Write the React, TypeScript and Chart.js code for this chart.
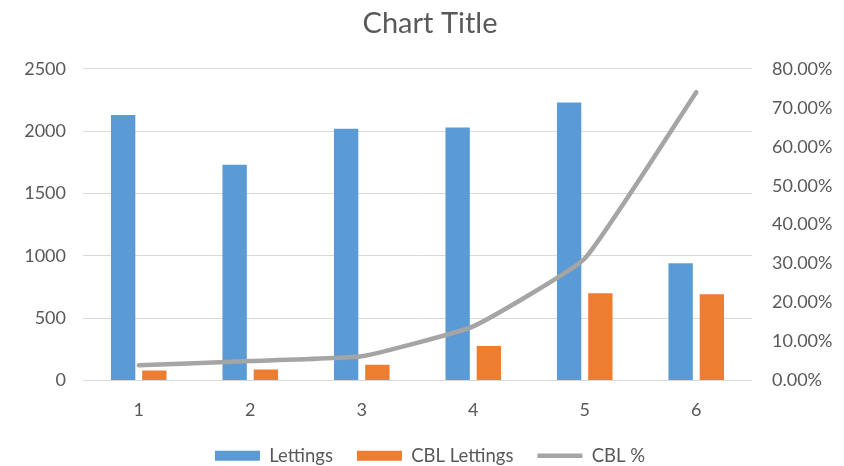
import React, { useEffect, useRef } from "react";
import { Chart, registerables } from "chart.js";

Chart.register(...registerables);

const categories = ["1", "2", "3", "4", "5", "6"];
const lettings = [2130, 1730, 2020, 2030, 2230, 940];
const cblLettings = [80, 88, 126, 276, 700, 692];
const cblPct = [0.039, 0.05, 0.062, 0.139, 0.313, 0.74];

const BLUE = "#5B9BD5";
const ORANGE = "#ED7D31";
const GREY = "#A5A5A5";
const TEXT = "#595959";
const GRID = "#D9D9D9";
const FONT = "Lato";

export default function App() {
  const ref = useRef<HTMLCanvasElement>(null);
  useEffect(() => {
    document.body.style.margin = "0";
    const chart = new Chart(ref.current!, {
      type: "bar",
      data: {
        labels: categories,
        datasets: [
          {
            type: "line",
            label: "CBL %",
            data: cblPct,
            yAxisID: "y1",
            borderColor: GREY,
            backgroundColor: GREY,
            borderWidth: 4.5,
            pointRadius: 0,
            tension: 0.12,
            borderCapStyle: "round",
            order: 0,
          } as any,
          {
            type: "bar",
            label: "Lettings",
            data: lettings,
            yAxisID: "y",
            backgroundColor: BLUE,
            categoryPercentage: 0.56,
            barPercentage: 0.78,
            order: 1,
          },
          {
            type: "bar",
            label: "CBL Lettings",
            data: cblLettings,
            yAxisID: "y",
            backgroundColor: ORANGE,
            categoryPercentage: 0.56,
            barPercentage: 0.78,
            order: 1,
          },
        ],
      },
      options: {
        responsive: false,
        animation: false,
        layout: { padding: { left: 16, right: 0, top: 0, bottom: -9 } },
        plugins: {
          title: {
            display: true,
            text: "Chart Title",
            color: TEXT,
            font: { family: FONT, size: 29, weight: "normal" },
            padding: { top: 6, bottom: 28 },
          },
          legend: {
            position: "bottom",
            labels: {
              usePointStyle: true,
              pointStyleWidth: 45,
              boxHeight: 10,
              color: TEXT,
              font: { family: FONT, size: 18.5 },
              padding: 24,
              generateLabels: () => [
                { text: "Lettings", fillStyle: BLUE, strokeStyle: BLUE, lineWidth: 0, pointStyle: "rect", fontColor: TEXT, datasetIndex: 1 },
                { text: "CBL Lettings", fillStyle: ORANGE, strokeStyle: ORANGE, lineWidth: 0, pointStyle: "rect", fontColor: TEXT, datasetIndex: 2 },
                { text: "CBL %", fillStyle: GREY, strokeStyle: GREY, lineWidth: 4.5, pointStyle: "line", fontColor: TEXT, datasetIndex: 0 },
              ] as any,
            },
          },
          tooltip: { enabled: false },
        },
        scales: {
          x: {
            grid: { display: false },
            border: { display: false },
            ticks: { color: TEXT, font: { family: FONT, size: 18 }, padding: 11 },
            afterFit: (s: any) => {
              s.height = 42;
            },
          },
          y: {
            position: "left",
            min: 0,
            max: 2500,
            ticks: {
              stepSize: 500,
              color: TEXT,
              font: { family: FONT, size: 18 },
              padding: 17,
              callback: (v: any) => String(v),
            },
            grid: { color: GRID, lineWidth: 1, drawTicks: false },
            border: { display: false },
            afterFit: (s: any) => {
              s.width = 67;
            },
          },
          y1: {
            position: "right",
            min: 0,
            max: 0.8,
            ticks: {
              stepSize: 0.1,
              color: TEXT,
              font: { family: FONT, size: 18 },
              padding: 20,
              callback: (v: any) => (Number(v) * 100).toFixed(2) + "%",
            },
            grid: { display: false, drawTicks: false },
            border: { display: false },
            afterFit: (s: any) => {
              s.width = 92;
            },
          },
        },
      },
    });
    return () => chart.destroy();
  }, []);
  return (
    <div style={{ position: "absolute", left: 0, top: 0, width: 844, height: 466, background: "#fff" }}>
      <canvas ref={ref} width={844} height={466} />
    </div>
  );
}
